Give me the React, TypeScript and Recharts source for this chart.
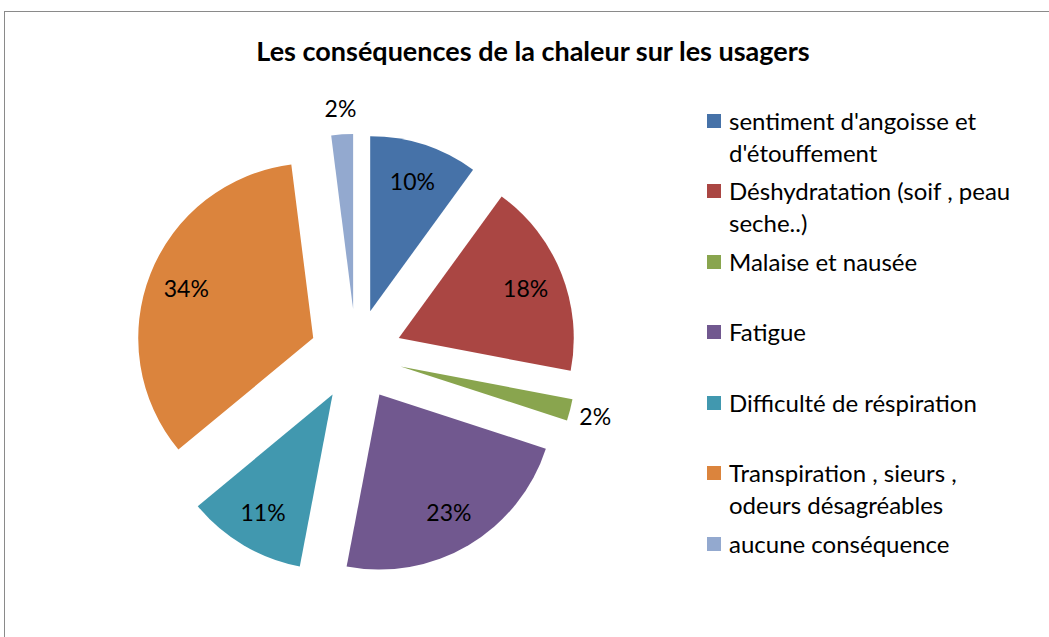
import React from 'react';
import { PieChart, Pie, Cell, Legend, Sector } from 'recharts';

const categories = [
  "sentiment d'angoisse et d'étouffement",
  'Déshydratation (soif , peau seche..)',
  'Malaise et nausée',
  'Fatigue',
  'Difficulté de réspiration',
  'Transpiration , sieurs , odeurs désagréables',
  'aucune conséquence',
];
const values = [10, 18, 2, 23, 11, 34, 2];
const colors = ['#4672A8', '#AA4643', '#89A54E', '#71588F', '#4198AF', '#DB843D', '#93A9CF'];
const labelsText = ['10%', '18%', '2%', '23%', '11%', '34%', '2%'];
const outsideLabel = [false, false, true, false, false, false, true];

const data = categories.map((name, i) => ({ name, value: values[i], label: labelsText[i], outside: outsideLabel[i] }));

const RAD = Math.PI / 180;
const EXPLODE = 46;
const FONT = 'Lato, "Liberation Sans", sans-serif';

const ExplodedSector = (props: any) => {
  const { cx, cy, midAngle } = props;
  const dx = EXPLODE * Math.cos(-midAngle * RAD);
  const dy = EXPLODE * Math.sin(-midAngle * RAD);
  return <Sector {...props} cx={cx + dx} cy={cy + dy} stroke="none" />;
};

const renderLabel = (props: any) => {
  const { cx, cy, midAngle, outerRadius, index } = props;
  const ox = cx + EXPLODE * Math.cos(-midAngle * RAD);
  const oy = cy + EXPLODE * Math.sin(-midAngle * RAD);
  const r = data[index].outside ? outerRadius + 26 : outerRadius * 0.78;
  const x = ox + r * Math.cos(-midAngle * RAD);
  const y = oy + r * Math.sin(-midAngle * RAD);
  return (
    <text x={x} y={y} textAnchor="middle" dominantBaseline="central" fill="#000" fontSize={23} fontFamily={FONT}>
      {data[index].label}
    </text>
  );
};

const LegendContent = () => (
  <div style={{ fontFamily: FONT, fontSize: 24, color: '#000' }}>
    {data.map((d, i) => (
      <div key={d.name} style={{ position: 'relative', height: 70.5 }}>
        <div style={{ position: 'absolute', left: 0, top: 9, width: 14, height: 14, background: colors[i] }} />
        <div style={{ position: 'absolute', left: 22, top: 0, width: 292, lineHeight: '32px' }}>{d.name}</div>
      </div>
    ))}
  </div>
);

export default function App() {
  return (
    <div style={{ position: 'absolute', left: 0, top: 0, width: 1049, height: 637, overflow: 'hidden', background: '#fff' }}>
      <div style={{ position: 'absolute', left: 4, top: 11, width: 1100, height: 700, border: '1px solid #8a8a8a', boxSizing: 'border-box' }} />
      <div style={{ position: 'absolute', left: 0, top: 0 }}>
        <PieChart width={1049} height={637} margin={{ top: 0, right: 0, bottom: 0, left: 0 }}>
          <text x={533} y={50} textAnchor="middle" dominantBaseline="central" fontFamily={FONT} fontWeight="bold" fontSize={27} fill="#000">
            Les conséquences de la chaleur sur les usagers
          </text>
          <Pie
            data={data}
            dataKey="value"
            nameKey="name"
            cx={356}
            cy={355}
            outerRadius={175}
            startAngle={90}
            endAngle={-270}
            isAnimationActive={false}
            shape={ExplodedSector}
            label={renderLabel}
            labelLine={false}
            stroke="none"
          >
            {data.map((d, i) => (
              <Cell key={d.name} fill={colors[i]} />
            ))}
          </Pie>
          <Legend
            content={<LegendContent />}
            layout="vertical"
            wrapperStyle={{ position: 'absolute', left: 707, top: 104.5, width: 340 }}
          />
        </PieChart>
      </div>
    </div>
  );
}
